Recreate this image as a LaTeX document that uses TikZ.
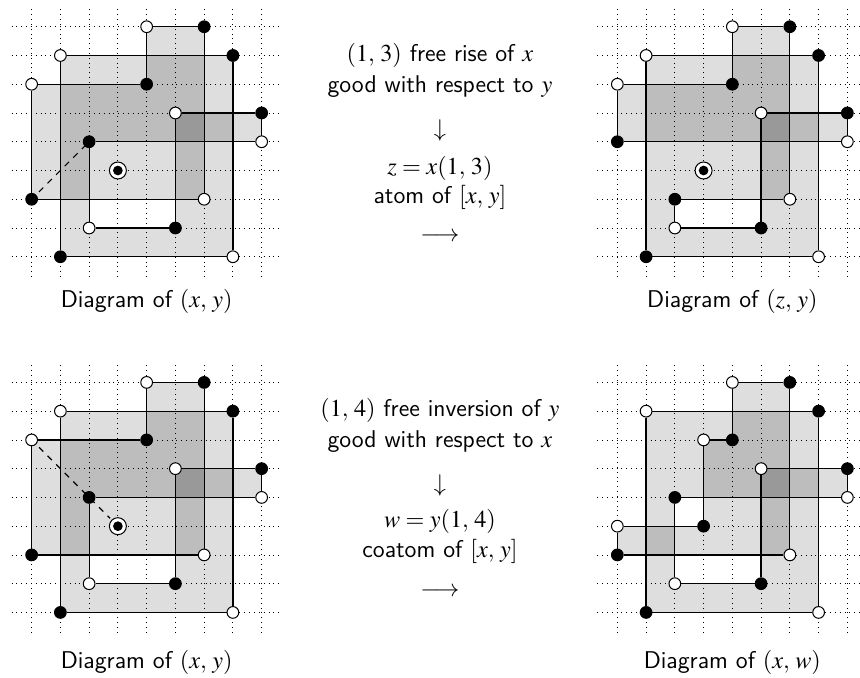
\documentclass[tikz,border=0pt]{standalone}
\usepackage{mathptmx}
\usepackage{tikz}
\usetikzlibrary{positioning}
\definecolor{lightshade}{gray}{0.87}
\definecolor{midshade}{gray}{0.74}
\definecolor{darkshade}{gray}{0.6}

\begin{document}
\begin{tikzpicture}[
x=0.5cm,y=0.5cm,
gridln/.style={dotted,thin},
edge/.style={line width=0.6pt},
wpt/.style={circle,draw,fill=white,inner sep=0pt,minimum size=5.8pt,line width=0.5pt},
bpt/.style={circle,draw,fill=black,inner sep=0pt,minimum size=5.8pt,line width=0.5pt},
cpt/.style={circle,draw,fill=white,inner sep=0pt,minimum size=8.4pt,line width=0.5pt,
  path picture={\fill[black] (path picture bounding box.center) circle (2.4pt);}},
lbl/.style={font=\large\sffamily,inner sep=1pt}
]
\useasboundingbox (0,0) rectangle (29.91,23.55);

% diagram of (x,y), top
\begin{scope}[shift={(0.10,13.62)}]
\fill[lightshade] (2,1) rectangle (8,8) (1,3) rectangle (5,7) (5,3) rectangle (7,9) (8,5) rectangle (9,6);
\fill[white] (3,2) rectangle (6,3);
\fill[midshade] (2,3) rectangle (3,7) (3,5) rectangle (7,7) (5,7) rectangle (7,8) (6,3) rectangle (7,5) (7,5) rectangle (8,6);
\fill[darkshade] (6,5) rectangle (7,6);
\foreach \i in {1,...,9} {
  \draw[gridln] (\i,0.3) -- (\i,9.7);
  \draw[gridln] (0.3,\i) -- (9.7,\i);
}
\node[wpt] (aw9) at (5,9) {};
\node[bpt] (ab9) at (7,9) {};
\node[wpt] (aw8) at (2,8) {};
\node[bpt] (ab8) at (8,8) {};
\node[wpt] (aw7) at (1,7) {};
\node[bpt] (ab7) at (5,7) {};
\node[wpt] (aw6) at (6,6) {};
\node[bpt] (ab6) at (9,6) {};
\node[bpt] (ab5) at (3,5) {};
\node[wpt] (aw5) at (9,5) {};
\node[cpt] (ac4) at (4,4) {};
\node[bpt] (ab3) at (1,3) {};
\node[wpt] (aw3) at (7,3) {};
\node[wpt] (aw2) at (3,2) {};
\node[bpt] (ab2) at (6,2) {};
\node[bpt] (ab1) at (2,1) {};
\node[wpt] (aw1) at (8,1) {};
\draw[edge] (aw9) -- (ab9) -- (aw3) -- (ab3) -- (aw7) -- (ab7) -- (aw9);
\draw[edge] (aw8) -- (ab8) -- (aw1) -- (ab1) -- (aw8);
\draw[edge] (aw6) -- (ab6) -- (aw5) -- (ab5) -- (aw2) -- (ab2) -- (aw6);
\draw[edge,dashed,shorten <=2pt] (ab3) -- (ab5);
\end{scope}

% diagram of (z,y)
\begin{scope}[shift={(20.47,13.62)}]
\fill[lightshade] (2,1) rectangle (8,8) (5,8) rectangle (7,9) (1,5) rectangle (2,7) (8,5) rectangle (9,6);
\fill[white] (3,2) rectangle (6,3);
\fill[midshade] (2,5) rectangle (7,7) (5,7) rectangle (7,8) (6,3) rectangle (7,5) (7,5) rectangle (8,6);
\fill[darkshade] (6,5) rectangle (7,6);
\foreach \i in {1,...,9} {
  \draw[gridln] (\i,0.3) -- (\i,9.7);
  \draw[gridln] (0.3,\i) -- (9.7,\i);
}
\node[wpt] (bw9) at (5,9) {};
\node[bpt] (bb9) at (7,9) {};
\node[wpt] (bw8) at (2,8) {};
\node[bpt] (bb8) at (8,8) {};
\node[wpt] (bw7) at (1,7) {};
\node[bpt] (bb7) at (5,7) {};
\node[wpt] (bw6) at (6,6) {};
\node[bpt] (bb6) at (9,6) {};
\node[bpt] (bb5) at (1,5) {};
\node[wpt] (bw5) at (9,5) {};
\node[cpt] (bc4) at (4,4) {};
\node[bpt] (bb3) at (3,3) {};
\node[wpt] (bw3) at (7,3) {};
\node[wpt] (bw2) at (3,2) {};
\node[bpt] (bb2) at (6,2) {};
\node[bpt] (bb1) at (2,1) {};
\node[wpt] (bw1) at (8,1) {};
\draw[edge] (bw9) -- (bb9) -- (bw3) -- (bb3) -- (bw2) -- (bb2) -- (bw6) -- (bb6) -- (bw5) -- (bb5) -- (bw7) -- (bb7) -- (bw9);
\draw[edge] (bw8) -- (bb8) -- (bw1) -- (bb1) -- (bw8);
\end{scope}

% diagram of (x,y), bottom
\begin{scope}[shift={(0.10,1.25)}]
\fill[lightshade] (2,1) rectangle (8,8) (1,3) rectangle (5,7) (5,3) rectangle (7,9) (8,5) rectangle (9,6);
\fill[white] (3,2) rectangle (6,3);
\fill[midshade] (2,3) rectangle (3,7) (3,5) rectangle (7,7) (5,7) rectangle (7,8) (6,3) rectangle (7,5) (7,5) rectangle (8,6);
\fill[darkshade] (6,5) rectangle (7,6);
\foreach \i in {1,...,9} {
  \draw[gridln] (\i,0.3) -- (\i,9.7);
  \draw[gridln] (0.3,\i) -- (9.7,\i);
}
\node[wpt] (cw9) at (5,9) {};
\node[bpt] (cb9) at (7,9) {};
\node[wpt] (cw8) at (2,8) {};
\node[bpt] (cb8) at (8,8) {};
\node[wpt] (cw7) at (1,7) {};
\node[bpt] (cb7) at (5,7) {};
\node[wpt] (cw6) at (6,6) {};
\node[bpt] (cb6) at (9,6) {};
\node[bpt] (cb5) at (3,5) {};
\node[wpt] (cw5) at (9,5) {};
\node[cpt] (cc4) at (4,4) {};
\node[bpt] (cb3) at (1,3) {};
\node[wpt] (cw3) at (7,3) {};
\node[wpt] (cw2) at (3,2) {};
\node[bpt] (cb2) at (6,2) {};
\node[bpt] (cb1) at (2,1) {};
\node[wpt] (cw1) at (8,1) {};
\draw[edge] (cw9) -- (cb9) -- (cw3) -- (cb3) -- (cw7) -- (cb7) -- (cw9);
\draw[edge] (cw8) -- (cb8) -- (cw1) -- (cb1) -- (cw8);
\draw[edge] (cw6) -- (cb6) -- (cw5) -- (cb5) -- (cw2) -- (cb2) -- (cw6);
\draw[edge,dashed,shorten <=2pt,shorten >=1pt] (cw7) -- (cc4);
\end{scope}

% diagram of (x,w)
\begin{scope}[shift={(20.47,1.25)}]
\fill[lightshade] (2,1) rectangle (8,8) (5,8) rectangle (7,9) (1,3) rectangle (2,4) (8,5) rectangle (9,6);
\fill[white] (3,2) rectangle (6,3) (3,4) rectangle (4,5);
\fill[midshade] (4,5) rectangle (7,7) (5,7) rectangle (7,8) (6,3) rectangle (7,5) (7,5) rectangle (8,6) (2,3) rectangle (3,4);
\fill[darkshade] (6,5) rectangle (7,6);
\foreach \i in {1,...,9} {
  \draw[gridln] (\i,0.3) -- (\i,9.7);
  \draw[gridln] (0.3,\i) -- (9.7,\i);
}
\node[wpt] (dw9) at (5,9) {};
\node[bpt] (db9) at (7,9) {};
\node[wpt] (dw8) at (2,8) {};
\node[bpt] (db8) at (8,8) {};
\node[wpt] (dw7) at (4,7) {};
\node[bpt] (db7) at (5,7) {};
\node[wpt] (dw6) at (6,6) {};
\node[bpt] (db6) at (9,6) {};
\node[bpt] (db5) at (3,5) {};
\node[wpt] (dw5) at (9,5) {};
\node[wpt] (dw4) at (1,4) {};
\node[bpt] (db4) at (4,4) {};
\node[bpt] (db3) at (1,3) {};
\node[wpt] (dw3) at (7,3) {};
\node[wpt] (dw2) at (3,2) {};
\node[bpt] (db2) at (6,2) {};
\node[bpt] (db1) at (2,1) {};
\node[wpt] (dw1) at (8,1) {};
\draw[edge] (dw9) -- (db9) -- (dw3) -- (db3) -- (dw4) -- (db4) -- (dw7) -- (db7) -- (dw9);
\draw[edge] (dw8) -- (db8) -- (dw1) -- (db1) -- (dw8);
\draw[edge] (dw6) -- (db6) -- (dw5) -- (db5) -- (dw2) -- (db2) -- (dw6);
\end{scope}

\node[lbl] (rise1) at (15.30,21.63) {$(1,\,3)$ free rise of $x$};
\node[lbl] (rise2) at (15.30,20.53) {good with respect to $y$};
\node[lbl] (risedown) at (15.30,19.03) {$\downarrow$};
\node[lbl] (rise3) at (15.30,17.70) {$z=x(1,\,3)$};
\node[lbl] (rise4) at (15.30,16.70) {atom of $[x,\,y]$};
\node[lbl] (riseto) at (15.30,15.30) {$\longrightarrow$};

\node[lbl] (inv1) at (15.30,9.29) {$(1,\,4)$ free inversion of $y$};
\node[lbl] (inv2) at (15.30,8.18) {good with respect to $x$};
\node[lbl] (invdown) at (15.30,6.68) {$\downarrow$};
\node[lbl] (inv3) at (15.30,5.40) {$w=y(1,\,4)$};
\node[lbl] (inv4) at (15.30,4.36) {coatom of $[x,\,y]$};
\node[lbl] (invto) at (15.30,2.96) {$\longrightarrow$};

\node[lbl] (capa) at (5.10,13.08) {Diagram of $(x,\,y)$};
\node[lbl] (capb) at (25.47,13.08) {Diagram of $(z,\,y)$};
\node[lbl] (capc) at (5.10,0.52) {Diagram of $(x,\,y)$};
\node[lbl] (capd) at (25.47,0.52) {Diagram of $(x,\,w)$};
\end{tikzpicture}
\end{document}
